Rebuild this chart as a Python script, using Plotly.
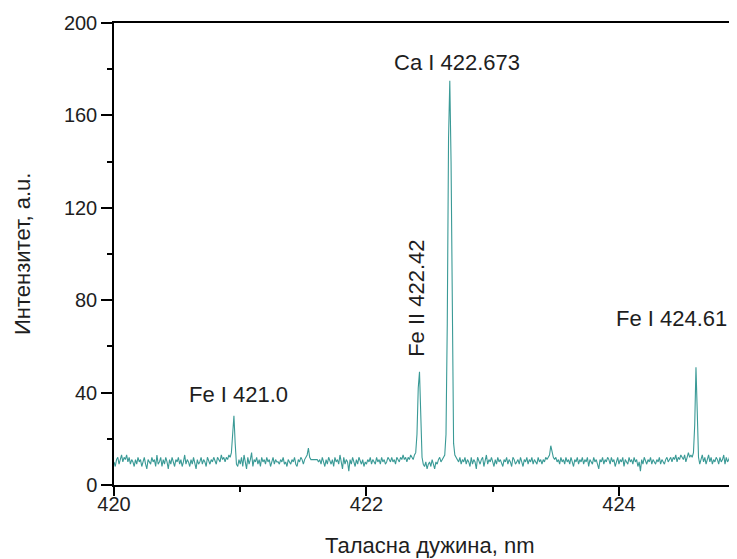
import numpy as np
import plotly.graph_objects as go

# Spectrum intensities (a.u.), sampled every 0.01 nm starting at 420.00 nm
intensity = [
    10, 8, 11, 12, 9, 11, 13, 10, 12, 11,
    13, 10, 12, 9, 11, 10, 8, 11, 9, 12,
    10, 11, 8, 10, 12, 9, 7, 11, 10, 9,
    12, 10, 11, 8, 13, 9, 10, 12, 8, 11,
    9, 12, 10, 7, 11, 9, 12, 10, 8, 11,
    10, 12, 9, 11, 8, 10, 13, 9, 11, 10,
    8, 11, 9, 12, 10, 7, 11, 9, 10, 12,
    9, 11, 10, 8, 12, 10, 9, 11, 10, 12,
    10, 9, 12, 11, 10, 13, 11, 12, 10, 12,
    11, 13, 12, 14, 24, 30, 18, 9, 8, 11,
    9, 12, 8, 13, 10, 7, 12, 9, 11, 14,
    8, 11, 10, 12, 9, 11, 8, 12, 10, 11,
    9, 12, 10, 11, 8, 10, 12, 9, 11, 10,
    10, 9, 11, 10, 12, 9, 10, 8, 11, 10,
    9, 11, 10, 12, 9, 8, 11, 10, 12, 11,
    9, 11, 12, 13, 16, 12, 11, 11, 11, 11,
    11, 11, 10, 11, 9, 12, 10, 8, 11, 9,
    12, 10, 9, 11, 8, 12, 10, 11, 9, 13,
    10, 7, 12, 9, 11, 10, 6, 11, 9, 12,
    10, 8, 11, 9, 12, 10, 9, 11, 8, 10,
    9, 11, 10, 12, 9, 11, 10, 9, 12, 10,
    11, 9, 12, 10, 11, 9, 10, 12, 11, 10,
    12, 10, 11, 9, 12, 11, 10, 12, 11, 13,
    11, 12, 10, 12, 11, 13, 12, 11, 13, 14,
    22, 42, 49, 30, 12, 9, 8, 10, 7, 9,
    10, 8, 11, 9, 7, 10, 9, 11, 12, 10,
    11, 12, 13, 22, 70, 150, 175, 140, 55, 18,
    13, 12, 11, 10, 12, 9, 11, 10, 12, 9,
    11, 10, 8, 12, 9, 11, 10, 7, 12, 10,
    9, 11, 12, 8, 10, 13, 9, 11, 10, 12,
    10, 8, 11, 9, 12, 10, 11, 9, 8, 11,
    10, 12, 9, 11, 10, 8, 12, 11, 9, 10,
    11, 9, 12, 10, 8, 11, 10, 12, 9, 11,
    10, 12, 9, 11, 10, 9, 12, 10, 11, 9,
    11, 10, 12, 11, 12, 13, 17, 14, 12, 11,
    12, 10, 11, 9, 12, 10, 11, 9, 12, 10,
    11, 9, 12, 10, 8, 11, 10, 12, 9, 11,
    10, 12, 9, 11, 10, 12, 8, 11, 10, 9,
    12, 10, 11, 9, 7, 11, 10, 12, 9, 11,
    10, 12, 11, 9, 12, 10, 11, 8, 10, 12,
    9, 11, 10, 12, 8, 11, 10, 9, 12, 10,
    11, 9, 12, 10, 11, 8, 10, 6, 11, 9,
    12, 10, 9, 11, 10, 12, 9, 11, 10, 9,
    11, 10, 12, 9, 11, 10, 9, 11, 12, 10,
    11, 12, 10, 12, 11, 13, 10, 12, 11, 13,
    12, 11, 13, 10, 12, 14, 12, 13, 12, 14,
    26, 51, 32, 12, 9, 11, 13, 10, 12, 9,
    11, 13, 10, 12, 9, 11, 10, 12, 11, 9,
    12, 10, 11, 13, 9, 12, 10, 11, 13, 10,
    12, 11, 9, 12,
]
start_nm = 420.0
step_nm = 0.01
wavelength = np.round(start_nm + step_nm * np.arange(len(intensity)), 2)

# Line labels: text, x position (nm), y position (a.u.), rotation
label_texts = ["Fe I 421.0", "Fe II 422.42", "Ca I 422.673", "Fe I 424.61"]
label_x = [420.99, 422.40, 422.72, 424.42]
label_y = [39, 81, 183, 72]
label_angle = [0, -90, 0, 0]

x_ticks = [420, 422, 424]
y_ticks = [0, 40, 80, 120, 160, 200]

FONT = "Liberation Sans, Arial, sans-serif"
LINE_COLOR = "#3a9a96"
TXT = "#1e1e1e"

# The page body has an 8 px margin, so the figure is drawn 8 px in.
PAGE_OFF = 8
plot_left, plot_top, plot_h, plot_w = 114 - PAGE_OFF, 23 - PAGE_OFF, 462, 623
fig_w, fig_h = 737 - PAGE_OFF, 559 - PAGE_OFF

fig = go.Figure()
fig.add_trace(go.Scatter(
    x=wavelength, y=intensity, mode="lines",
    line=dict(color=LINE_COLOR, width=1.1),
    showlegend=False, hoverinfo="x+y",
))

for t, lx, ly, ang in zip(label_texts, label_x, label_y, label_angle):
    fig.add_annotation(x=lx, y=ly, xref="x", yref="y", text=t,
                       textangle=ang, showarrow=False,
                       font=dict(family=FONT, size=22, color=TXT))

fig.add_annotation(x=422.5, y=(plot_top + plot_h - (545 - PAGE_OFF)) / plot_h,
                   xref="x", yref="paper",
                   text="Таласна дужина, nm", showarrow=False,
                   yanchor="middle",
                   font=dict(family=FONT, size=22, color=TXT))
fig.add_annotation(x=((22 - PAGE_OFF) - plot_left) / plot_w, y=0.5,
                   xref="paper", yref="paper",
                   text="Интензитет, а.u.", showarrow=False, textangle=-90,
                   xanchor="center", yanchor="middle",
                   font=dict(family=FONT, size=22, color=TXT))

fig.update_layout(
    width=fig_w, height=fig_h,
    margin=dict(l=plot_left, r=fig_w - plot_left - plot_w, t=plot_top,
                b=fig_h - plot_top - plot_h, autoexpand=False),
    paper_bgcolor="white", plot_bgcolor="white",
    font=dict(family=FONT, size=20, color=TXT),
    xaxis=dict(
        range=[420, 424.935], tickvals=x_ticks, ticks="outside", ticklen=9,
        tickwidth=1.5, tickcolor="black", showline=True, linecolor="black",
        linewidth=1.5, mirror=True, showgrid=False, zeroline=False,
        automargin=False, ticklabelstandoff=-9,
        minor=dict(dtick=1, ticks="outside", ticklen=5, tickwidth=1.5,
                   tickcolor="black", showgrid=False),
        tickfont=dict(size=20, color=TXT),
    ),
    yaxis=dict(
        range=[0, 200], tickvals=y_ticks, ticks="outside", ticklen=11,
        tickwidth=1.5, tickcolor="black", showline=True, linecolor="black",
        linewidth=1.5, showgrid=False, zeroline=False, automargin=False,
        minor=dict(dtick=20, ticks="outside", ticklen=5, tickwidth=1.5,
                   tickcolor="black", showgrid=False),
        tickfont=dict(size=20, color=TXT),
    ),
)

fig.write_html("out.html")
